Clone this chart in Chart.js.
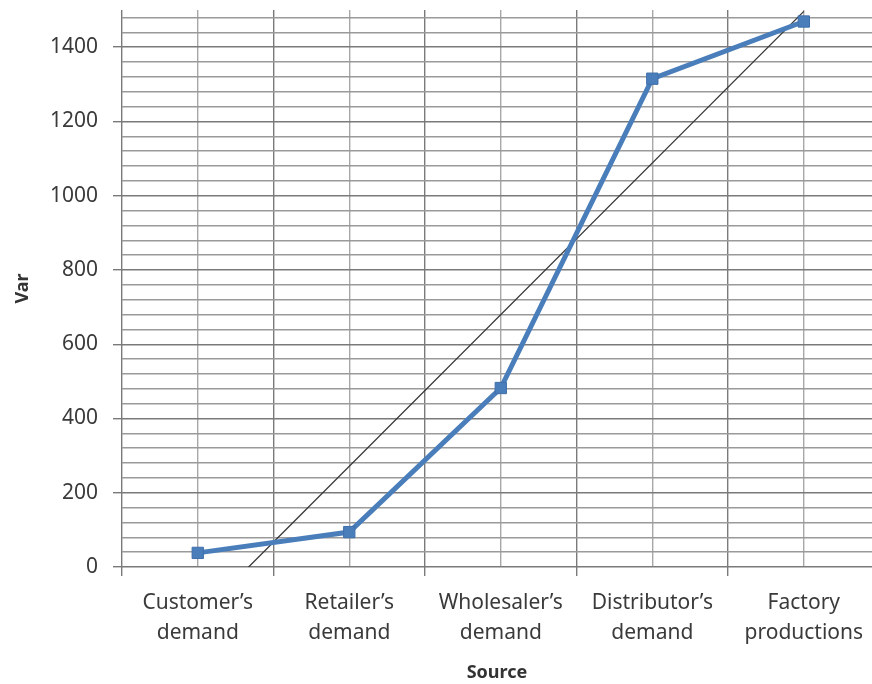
<!DOCTYPE html>
<html>
<head>
<meta charset="utf-8">
<script src="https://cdn.jsdelivr.net/npm/chart.js@4"></script>
<style>
  html, body { margin: 0; padding: 0; background: #fff; overflow: hidden; }
  #wrap { width: 872px; height: 684px; }
</style>
</head>
<body>
<div id="wrap"><canvas id="varChart" width="872" height="684"></canvas></div>
<script>
const categories = [
    ['Customer\u2019s', 'demand'],
    ['Retailer\u2019s', 'demand'],
    ['Wholesaler\u2019s', 'demand'],
    ['Distributor\u2019s', 'demand'],
    ['Factory', 'productions']
];
const varValues = [38, 94, 482, 1315, 1469];
const yMajorTicks = [0, 200, 400, 600, 800, 1000, 1200, 1400];
const yMinorStep = 40;
const yMax = 1500;

// least squares fit over category positions 1..n
const fitLine = (values) => {
    const n = values.length;
    const xs = values.map((_, i) => i + 1);
    const mx = xs.reduce((s, v) => s + v, 0) / n;
    const my = values.reduce((s, v) => s + v, 0) / n;
    let num = 0, den = 0;
    xs.forEach((x, i) => { num += (x - mx) * (values[i] - my); den += (x - mx) * (x - mx); });
    const slope = num / den;
    return (x) => my + slope * (x - mx);
};
const trend = fitLine(varValues);
const trendPoints = [1, categories.length].map(x => ({ x: x, y: trend(x) }));

const linePoints = varValues.map((v, i) => ({ x: i + 1, y: v }));

// gridlines at category centres and at the boundaries between them
const xGrid = [];
for (let v = 0.5; v <= categories.length; v += 0.5) xGrid.push(v);
const yGrid = [];
for (let v = 0; v < yMax; v += yMinorStep) yGrid.push(v);

const isBoundary = (v) => Math.abs(v - Math.round(v)) > 0.25;
const isMajor = (v) => yMajorTicks.includes(v);

const labelFont = { family: '"Noto Sans", "Open Sans", sans-serif', size: 21, lineHeight: 1.43 };
const titleFont = { family: '"Noto Sans", "Open Sans", sans-serif', size: 18, weight: 'bold' };

const ctx = document.getElementById('varChart').getContext('2d');
new Chart(ctx, {
    type: 'line',
    data: {
        datasets: [{
            label: 'Var',
            data: linePoints,
            borderColor: '#4a7ebb',
            borderWidth: 5,
            pointStyle: 'rect',
            pointRadius: 8,
            pointBackgroundColor: '#4a7ebb',
            pointBorderColor: '#3f6fab',
            pointBorderWidth: 1,
            tension: 0,
            order: 1
        }, {
            label: 'Linear (Var)',
            data: trendPoints,
            borderColor: '#333333',
            borderWidth: 1.3,
            pointRadius: 0,
            tension: 0,
            order: 2
        }]
    },
    options: {
        responsive: false,
        animation: false,
        layout: { autoPadding: false, padding: { top: 10, right: 0, bottom: 0, left: 0 } },
        plugins: {
            legend: { display: false },
            tooltip: { enabled: false }
        },
        scales: {
            x: {
                type: 'linear',
                min: 0.5,
                max: 5.45,
                afterBuildTicks: (scale) => { scale.ticks = xGrid.map(v => ({ value: v })); },
                afterFit: (scale) => {
                    scale.height = 117;
                    scale.paddingLeft = 0;
                    scale.paddingRight = 0;
                },
                border: { display: false },
                grid: {
                    color: (c) => isBoundary(c.tick.value) ? '#7a7a7a' : '#a8a8a8',
                    tickColor: (c) => isBoundary(c.tick.value) ? '#7a7a7a' : 'rgba(0,0,0,0)',
                    lineWidth: 1.4,
                    tickLength: 9
                },
                ticks: {
                    autoSkip: false,
                    maxRotation: 0,
                    padding: 12,
                    color: '#3a3a3a',
                    font: labelFont,
                    callback: (v) => Number.isInteger(v) ? categories[v - 1] : ''
                },
                title: {
                    display: true,
                    text: 'Source',
                    color: '#333333',
                    font: titleFont,
                    padding: { top: 0, bottom: 0 }
                }
            },
            y: {
                min: 0,
                max: yMax,
                afterBuildTicks: (scale) => { scale.ticks = yGrid.map(v => ({ value: v })); },
                afterFit: (scale) => {
                    scale.width = 122;
                    scale.paddingTop = 0;
                    scale.paddingBottom = 0;
                },
                border: { display: false },
                grid: {
                    color: (c) => isMajor(c.tick.value) ? '#7a7a7a' : '#9a9a9a',
                    tickColor: (c) => isMajor(c.tick.value) ? '#7a7a7a' : 'rgba(0,0,0,0)',
                    lineWidth: 1.4,
                    tickLength: 9
                },
                ticks: {
                    autoSkip: false,
                    padding: 15,
                    color: '#3a3a3a',
                    font: labelFont,
                    callback: (v) => isMajor(v) ? String(v) : ''
                },
                title: {
                    display: true,
                    text: 'Var',
                    color: '#333333',
                    font: titleFont,
                    padding: { top: 12, bottom: 0 }
                }
            }
        }
    }
});
</script>
</body>
</html>
